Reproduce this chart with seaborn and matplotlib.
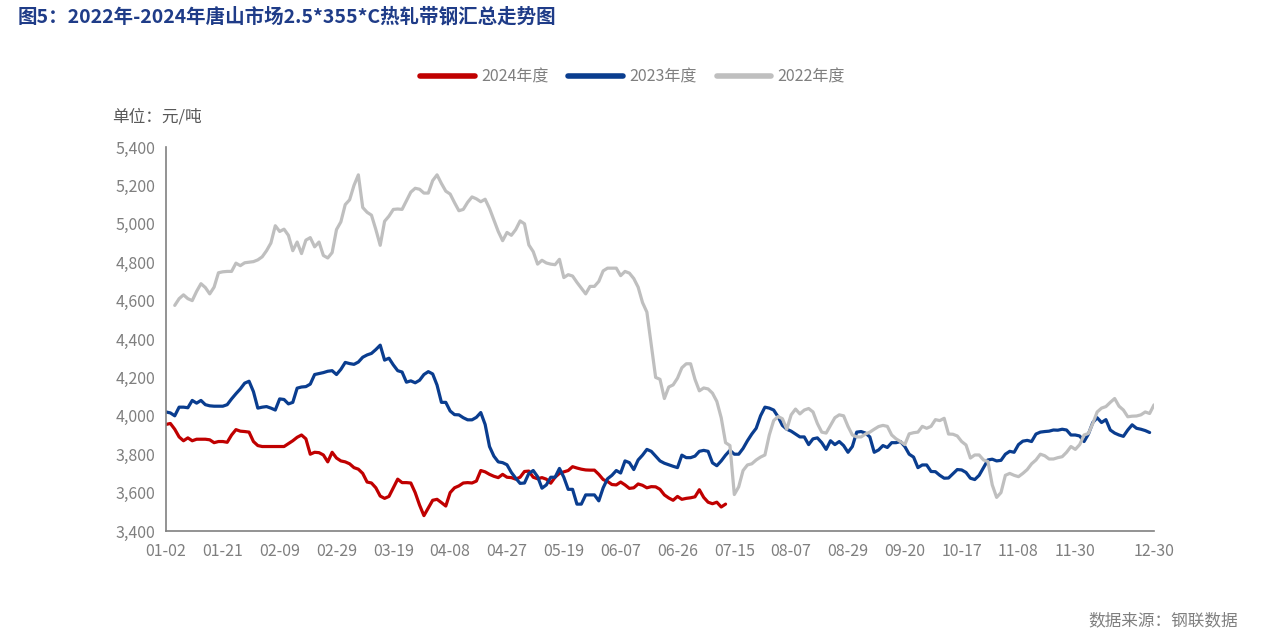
import numpy as np
import pandas as pd
import matplotlib
matplotlib.use("Agg")
import matplotlib.pyplot as plt
import seaborn as sns

# daily prices (元/吨), one value per trading-day slot on the shared axis
price_2024 = [
    3955, 3960, 3930, 3890, 3870, 3885, 3870, 3878, 3878, 3878,
    3875, 3860, 3866, 3866, 3862, 3900, 3928, 3920, 3918, 3915,
    3866, 3845, 3840, 3840, 3840, 3840, 3840, 3840, 3855, 3870,
    3888, 3900, 3880, 3800, 3810, 3808, 3796, 3760, 3810, 3780,
    3765, 3760, 3750, 3730, 3722, 3700, 3655, 3650, 3625, 3582,
    3570, 3580, 3625, 3670, 3652, 3652, 3650, 3600, 3535, 3480,
    3520, 3560, 3565, 3548, 3530, 3600, 3625, 3635, 3650, 3652,
    3650, 3660, 3715, 3708, 3695, 3685, 3678, 3695, 3680, 3678,
    3670, 3680, 3710, 3712, 3680, 3672, 3678, 3670, 3649, 3680,
    3700, 3708, 3715, 3735, 3728, 3722, 3718, 3717, 3717, 3695,
    3668, 3658, 3642, 3640, 3655, 3640, 3622, 3625, 3645, 3638,
    3625, 3631, 3630, 3617, 3588, 3572, 3560, 3580, 3565, 3570,
    3573, 3578, 3615, 3575, 3550, 3542, 3550, 3525, 3540,
] + [None] * 98

price_2023 = [
    4020, 4015, 4000, 4045, 4045, 4042, 4080, 4066, 4080, 4058,
    4052, 4050, 4050, 4050, 4058, 4088, 4115, 4140, 4170, 4180,
    4126, 4040, 4045, 4048, 4040, 4030, 4088, 4085, 4062, 4070,
    4144, 4150, 4152, 4165, 4215, 4220, 4225, 4232, 4235, 4215,
    4242, 4278, 4272, 4268, 4280, 4305, 4317, 4325, 4345, 4368,
    4290, 4300, 4265, 4235, 4228, 4175, 4182, 4172, 4185, 4215,
    4230, 4218, 4160, 4070, 4070, 4025, 4006, 4005, 3990, 3979,
    3979, 3992, 4017, 3955, 3840, 3790, 3760, 3756, 3745, 3705,
    3675, 3648, 3650, 3700, 3715, 3683, 3623, 3640, 3680, 3680,
    3726, 3680, 3617, 3617, 3540, 3540, 3588, 3588, 3588, 3557,
    3625, 3672, 3690, 3715, 3702, 3765, 3756, 3720, 3770, 3795,
    3825, 3815, 3790, 3765, 3753, 3745, 3737, 3730, 3795, 3782,
    3782, 3790, 3815, 3820, 3815, 3755, 3740, 3765, 3795, 3820,
    3800, 3800, 3830, 3870, 3905, 3935, 4000, 4045, 4040, 4030,
    3995, 3950, 3930, 3920, 3905, 3890, 3890, 3850, 3880, 3885,
    3860, 3825, 3870, 3850, 3866, 3845, 3810, 3840, 3915, 3918,
    3910, 3890, 3810, 3822, 3845, 3835, 3860, 3860, 3866, 3840,
    3800, 3785, 3730, 3744, 3744, 3710, 3709, 3690, 3675, 3676,
    3698, 3720, 3718, 3705, 3675, 3668, 3690, 3730, 3770, 3774,
    3765, 3768, 3800, 3815, 3810, 3850, 3868, 3872, 3866, 3905,
    3915, 3918, 3920, 3926, 3925, 3930, 3926, 3900, 3900, 3895,
    3866, 3905, 3965, 3990, 3965, 3980, 3926, 3910, 3900, 3893,
    3926, 3953, 3935, 3930, 3923, 3913,
] + [None]

price_2022 = [None, None,
    4575, 4610, 4630, 4610, 4600, 4648, 4688, 4668,
    4635, 4670, 4745, 4750, 4752, 4752, 4795, 4782, 4797, 4800,
    4803, 4812, 4828, 4860, 4900, 4990, 4960, 4972, 4940, 4860,
    4905, 4845, 4915, 4928, 4880, 4905, 4835, 4822, 4850, 4970,
    5010, 5100, 5125, 5200, 5255, 5085, 5060, 5045, 4970, 4888,
    5013, 5040, 5075, 5077, 5075, 5120, 5165, 5185, 5180, 5160,
    5160, 5225, 5255, 5210, 5170, 5155, 5110, 5068, 5075, 5112,
    5140, 5130, 5115, 5128, 5080, 5020, 4960, 4912, 4955, 4940,
    4970, 5015, 5000, 4890, 4855, 4790, 4810, 4796, 4790, 4787,
    4815, 4720, 4735, 4728, 4695, 4665, 4635, 4674, 4674, 4700,
    4755, 4769, 4769, 4769, 4730, 4752, 4743, 4715, 4670, 4590,
    4540, 4370, 4200, 4190, 4090, 4150, 4161, 4196, 4250, 4271,
    4271, 4190, 4130, 4145, 4140, 4118, 4075, 3990, 3860, 3845,
    3590, 3630, 3715, 3744, 3750, 3770, 3785, 3796, 3900, 3975,
    3996, 3985, 3930, 4005, 4035, 4010, 4030, 4038, 4020, 3960,
    3915, 3910, 3950, 3990, 4005, 4000, 3945, 3900, 3890, 3890,
    3905, 3915, 3930, 3944, 3950, 3945, 3900, 3880, 3866, 3850,
    3906, 3912, 3915, 3945, 3935, 3945, 3980, 3975, 3987, 3905,
    3904, 3895, 3866, 3848, 3780, 3796, 3796, 3770, 3762, 3640,
    3575, 3600, 3690, 3700, 3690, 3683, 3700, 3720, 3750, 3770,
    3800, 3792, 3775, 3775, 3782, 3787, 3810, 3840, 3825, 3850,
    3900, 3908, 3960, 4020, 4040, 4048, 4070, 4090, 4050, 4030,
    3995, 3998, 3999, 4005, 4020, 4012, 4057,
]

series_names = ["2024年度", "2023年度", "2022年度"]
series_colors = ["#C00000", "#0A3D8F", "#BFBFBF"]
tick_labels = ["01-02", "01-21", "02-09", "02-29", "03-19", "04-08", "04-27",
               "05-19", "06-07", "06-26", "07-15", "08-07", "08-29", "09-20",
               "10-17", "11-08", "11-30", "", "12-30"]

days = np.arange(len(price_2024))
frames = []
for name, vals in zip(series_names, [price_2024, price_2023, price_2022]):
    frames.append(pd.DataFrame({"day": days, "price": pd.array(vals, dtype="Float64"), "year": name}))
df = pd.concat(frames).dropna()
df["price"] = df["price"].astype(float)

sns.set_theme(style="white")
plt.rcParams["font.family"] = ["Noto Sans CJK SC", "DejaVu Sans"]

fig = plt.figure(figsize=(12.65, 6.44), dpi=100)
ax = fig.add_axes([166 / 1265, 1 - 531 / 644, (1154 - 166) / 1265, (531 - 147) / 644])

sns.lineplot(data=df, x="day", y="price", hue="year", hue_order=series_names,
             palette=series_colors, linewidth=2.3, estimator=None, sort=False, ax=ax)

handles, labels = ax.get_legend_handles_labels()
ax.get_legend().remove()
leg = fig.legend(handles, labels, loc="center", bbox_to_anchor=(0.5, 1 - 77 / 644),
                 ncol=3, frameon=False, fontsize=11.5, handlelength=3.4,
                 handletextpad=0.4, columnspacing=1.25, labelcolor="#7F7F7F")
for line in leg.get_lines():
    line.set_linewidth(4)

ax.set_xlim(0, len(days) - 1)
ax.set_ylim(3400, 5400)
tick_pos = list(range(0, 13 * 18, 13)) + [len(days) - 1]
ax.set_xticks(tick_pos)
ax.set_xticklabels(tick_labels)
ax.set_yticks(np.arange(3400, 5401, 200))
ax.set_yticklabels([f"{v:,}" for v in range(3400, 5401, 200)])
ax.set_xlabel("")
ax.set_ylabel("")

for side in ["top", "right"]:
    ax.spines[side].set_visible(False)
for side in ["left", "bottom"]:
    ax.spines[side].set_color("#808080")
    ax.spines[side].set_linewidth(1.2)
ax.tick_params(axis="both", which="major", direction="out", length=5, width=1,
               color="#404040", labelcolor="#7F7F7F", labelsize=11.5, pad=4)
ax.tick_params(axis="y", pad=3)

fig.text(18 / 1265, 1 - 17 / 644, "图5：2022年-2024年唐山市场2.5*355*C热轧带钢汇总走势图",
         fontsize=14, fontweight="bold", color="#1F3C88", va="center", ha="left")
fig.text(112 / 1265, 1 - 117 / 644, "单位：元/吨", fontsize=12, color="#595959",
         va="center", ha="left")
fig.text(1238 / 1265, 1 - 621 / 644, "数据来源：钢联数据", fontsize=12, color="#7F7F7F",
         va="center", ha="right")

fig.savefig("out.png", dpi=100)
